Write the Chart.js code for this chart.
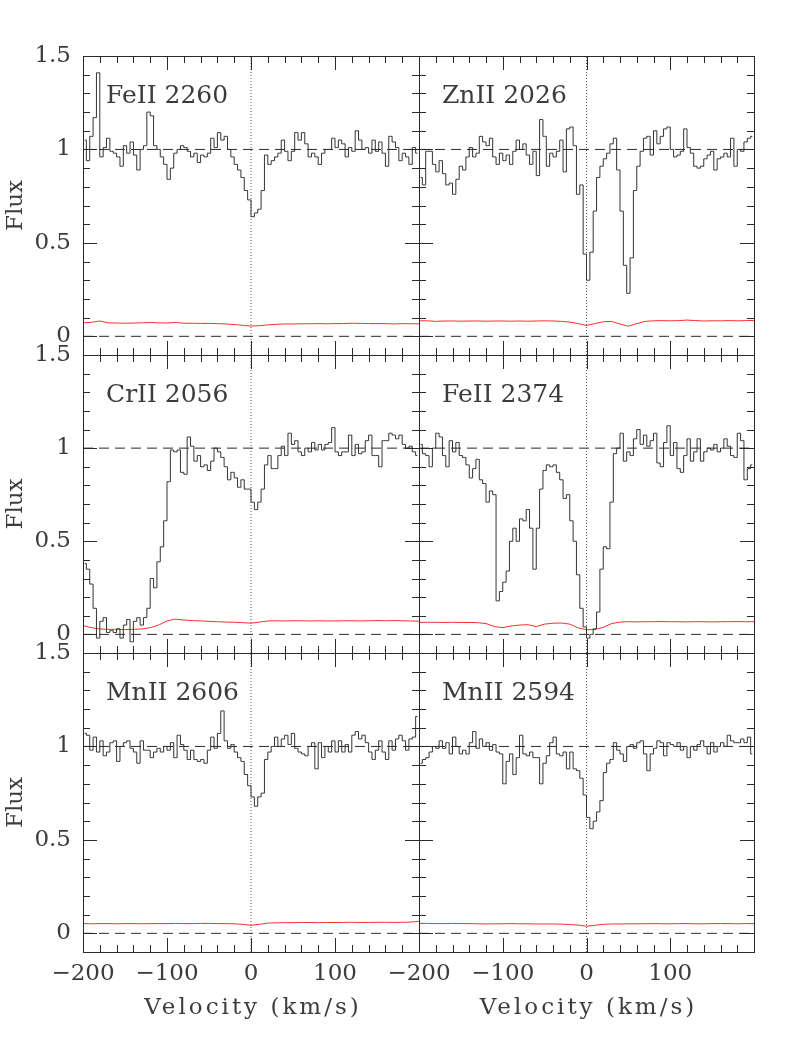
<!DOCTYPE html>
<html>
<head>
<meta charset="utf-8">
<script src="https://cdn.jsdelivr.net/npm/chart.js@4.4.1/dist/chart.umd.min.js"></script>
<style>
  html, body { margin: 0; padding: 0; background: #fff; }
  #wrap { position: relative; width: 795px; height: 1059px; }
  #wrap canvas { position: absolute; left: 0; top: 0; }
</style>
</head>
<body>
<div id="wrap">
  <canvas id="p0" width="795" height="1059"></canvas>
  <canvas id="p1" width="795" height="1059"></canvas>
  <canvas id="p2" width="795" height="1059"></canvas>
  <canvas id="p3" width="795" height="1059"></canvas>
  <canvas id="p4" width="795" height="1059"></canvas>
  <canvas id="p5" width="795" height="1059"></canvas>
</div>
<script>
// velocity of each spectral bin (km/s), bin centres
const velocity = [
  -198, -194, -190, -186, -182, -178, -174, -170, -166, -162,
  -158, -154, -150, -146, -142, -138, -134, -130, -126, -122,
  -118, -114, -110, -106, -102, -98, -94, -90, -86, -82,
  -78, -74, -70, -66, -62, -58, -54, -50, -46, -42,
  -38, -34, -30, -26, -22, -18, -14, -10, -6, -2,
  2, 6, 10, 14, 18, 22, 26, 30, 34, 38,
  42, 46, 50, 54, 58, 62, 66, 70, 74, 78,
  82, 86, 90, 94, 98, 102, 106, 110, 114, 118,
  122, 126, 130, 134, 138, 142, 146, 150, 154, 158,
  162, 166, 170, 174, 178, 182, 186, 190, 194, 198
];
// velocity grid of the error spectra (km/s)
const errVelocity = [
  -200, -190, -180, -170, -160, -150, -140, -130, -120, -110,
  -100, -90, -80, -70, -60, -50, -40, -30, -20, -10,
  0,
  10, 20, 30, 40, 50, 60, 70, 80, 90, 100,
  110, 120, 130, 140, 150, 160, 170, 180, 190, 200
];

const fluxFe2260 = [
  1.05, 0.94, 1.07, 1.17, 1.41, 0.96, 1.01, 1.06, 0.99, 0.98,
  0.96, 0.91, 1.02, 0.98, 1.04, 0.97, 0.89, 1.00, 1.02, 1.20,
  1.18, 1.02, 1.00, 0.96, 0.92, 0.84, 0.90, 0.98, 1.00, 1.02,
  1.01, 0.99, 0.96, 0.98, 0.93, 0.97, 0.96, 0.98, 1.06, 1.01,
  1.09, 1.05, 1.07, 1.00, 0.96, 0.92, 0.89, 0.85, 0.78, 0.73,
  0.64, 0.66, 0.68, 0.78, 0.97, 0.92, 0.94, 0.96, 0.98, 1.05,
  0.99, 0.94, 0.99, 1.09, 1.05, 1.09, 1.03, 0.96, 0.98, 0.96,
  0.92, 0.98, 1.00, 1.00, 1.06, 1.01, 1.05, 1.03, 0.96, 1.01,
  0.99, 1.10, 1.05, 1.00, 1.01, 0.98, 1.05, 0.99, 1.04, 0.98,
  0.91, 1.07, 1.04, 1.01, 0.94, 0.98, 0.96, 0.92, 1.01, 0.98
];
const fluxZn2026 = [
  0.85, 0.81, 0.99, 0.99, 0.92, 0.88, 0.94, 0.87, 0.81, 0.82,
  0.76, 0.84, 0.91, 0.89, 0.96, 1.01, 0.96, 0.98, 1.07, 1.04,
  1.02, 1.06, 0.96, 0.92, 0.98, 0.94, 0.97, 0.92, 0.99, 1.05,
  1.00, 1.03, 0.97, 0.92, 0.99, 0.86, 1.16, 1.07, 0.91, 0.98,
  0.96, 0.99, 1.05, 0.88, 1.11, 1.12, 1.02, 0.76, 0.81, 0.44,
  0.30, 0.45, 0.67, 0.85, 0.91, 0.95, 0.98, 1.03, 1.06, 0.89,
  0.67, 0.38, 0.23, 0.42, 0.78, 0.91, 0.99, 1.06, 1.07, 0.97,
  1.10, 1.03, 1.07, 1.11, 1.12, 1.00, 0.96, 0.97, 0.99, 1.11,
  1.01, 0.98, 0.91, 0.90, 0.91, 0.95, 0.97, 0.99, 0.89, 0.95,
  0.96, 0.98, 0.96, 1.06, 0.91, 1.00, 0.99, 1.04, 1.06, 1.07
];
const fluxCr2056 = [
  0.38, 0.35, 0.27, 0.14, -0.02, 0.07, 0.09, 0.01, 0.02, 0.01,
  0.03, -0.02, 0.05, 0.08, -0.04, 0.07, 0.09, 0.05, 0.09, 0.14,
  0.30, 0.25, 0.39, 0.47, 0.61, 0.82, 0.99, 0.98, 0.99, 0.87,
  0.86, 1.06, 1.01, 0.93, 0.96, 0.90, 0.91, 0.88, 0.93, 1.00,
  0.98, 0.95, 0.90, 0.83, 0.87, 0.84, 0.79, 0.83, 0.78, 0.78,
  0.71, 0.67, 0.71, 0.78, 0.91, 0.96, 0.89, 0.89, 0.96, 1.01,
  0.96, 1.08, 1.02, 1.04, 0.98, 0.96, 1.00, 0.98, 1.03, 0.99,
  1.02, 0.99, 1.02, 1.03, 1.11, 0.98, 0.96, 0.98, 0.98, 1.07,
  0.96, 1.02, 0.97, 0.98, 1.04, 1.07, 0.96, 0.96, 0.90, 1.04,
  1.04, 1.08, 1.07, 1.05, 1.07, 1.02, 1.00, 1.01, 0.98, 0.96
];
const fluxFe2374 = [
  1.02, 0.97, 0.96, 0.90, 1.00, 1.08, 1.06, 0.96, 0.90, 1.04,
  0.98, 1.03, 0.96, 0.95, 0.91, 0.84, 0.89, 0.94, 0.83, 0.81,
  0.71, 0.77, 0.75, 0.18, 0.23, 0.28, 0.34, 0.50, 0.57, 0.50,
  0.62, 0.61, 0.67, 0.57, 0.35, 0.57, 0.78, 0.88, 0.91, 0.90,
  0.91, 0.87, 0.83, 0.73, 0.75, 0.61, 0.50, 0.32, 0.14, 0.04,
  -0.02, 0.00, 0.03, 0.12, 0.35, 0.47, 0.46, 0.71, 0.97, 1.00,
  1.08, 0.93, 0.98, 0.96, 1.05, 1.10, 1.02, 1.07, 1.01, 1.04,
  1.08, 0.92, 0.90, 1.03, 1.12, 0.96, 1.03, 0.89, 0.87, 0.96,
  1.05, 0.93, 0.98, 1.05, 0.93, 0.98, 1.00, 0.99, 1.02, 0.98,
  1.00, 1.05, 1.01, 0.96, 0.95, 1.08, 1.04, 0.83, 0.89, 0.91
];
const fluxMn2606 = [
  1.07, 1.06, 0.98, 1.05, 0.97, 1.03, 0.95, 0.97, 1.02, 1.03,
  0.92, 1.00, 1.02, 1.03, 0.99, 0.97, 0.91, 1.03, 0.98, 0.98,
  0.94, 0.97, 0.99, 0.97, 1.00, 0.98, 1.02, 0.94, 1.06, 1.01,
  0.98, 0.93, 0.98, 0.93, 0.92, 0.93, 0.91, 0.98, 1.05, 0.99,
  1.07, 1.19, 1.03, 0.99, 1.01, 0.97, 0.94, 0.92, 0.85, 0.79,
  0.73, 0.68, 0.73, 0.75, 0.93, 0.97, 1.00, 1.05, 1.00, 1.04,
  1.06, 1.01, 1.07, 0.99, 0.97, 0.96, 0.95, 1.00, 1.02, 0.88,
  1.02, 0.94, 1.00, 0.97, 1.03, 0.97, 1.03, 0.97, 1.01, 0.97,
  1.06, 1.08, 1.04, 1.06, 1.02, 0.97, 0.93, 0.98, 1.03, 0.97,
  0.93, 1.03, 0.98, 1.04, 1.06, 1.03, 0.98, 1.04, 1.05, 1.16
];
const fluxMn2594 = [
  0.91, 0.93, 0.94, 0.97, 1.00, 0.99, 1.03, 0.99, 1.02, 0.96,
  1.05, 1.00, 0.96, 0.98, 0.96, 1.02, 1.08, 0.99, 1.04, 1.00,
  1.02, 0.98, 1.01, 0.97, 0.96, 0.80, 0.92, 0.96, 0.85, 0.94,
  1.06, 0.96, 0.95, 0.97, 0.94, 0.94, 0.80, 0.91, 0.95, 1.02,
  1.05, 0.96, 0.95, 0.97, 0.88, 0.97, 0.88, 0.87, 0.83, 0.74,
  0.62, 0.56, 0.60, 0.65, 0.71, 0.86, 0.91, 0.93, 1.02, 0.98,
  0.96, 0.92, 1.00, 1.01, 0.99, 1.02, 1.03, 0.96, 0.87, 0.96,
  0.99, 1.03, 1.02, 0.95, 1.02, 1.01, 1.00, 1.02, 0.98, 1.00,
  0.94, 1.00, 0.98, 1.01, 1.03, 1.00, 0.96, 1.02, 0.97, 1.00,
  1.02, 1.00, 1.06, 1.03, 1.02, 1.02, 1.04, 1.02, 1.05, 0.96
];

const errFe2260 = [
  0.072, 0.075, 0.082, 0.072, 0.071, 0.070, 0.071, 0.072, 0.074, 0.072,
  0.071, 0.074, 0.070, 0.070, 0.069, 0.069, 0.068, 0.066, 0.063, 0.059,
  0.055,
  0.057, 0.061, 0.064, 0.066, 0.066, 0.067, 0.067, 0.068, 0.067, 0.068,
  0.068, 0.070, 0.069, 0.068, 0.068, 0.068, 0.066, 0.068, 0.067, 0.067
];
const errZn2026 = [
  0.083, 0.083, 0.080, 0.082, 0.082, 0.081, 0.082, 0.082, 0.081, 0.082,
  0.082, 0.081, 0.082, 0.081, 0.082, 0.083, 0.082, 0.080, 0.076, 0.068,
  0.058,
  0.068, 0.078, 0.080, 0.066, 0.054, 0.068, 0.080, 0.083, 0.084, 0.083,
  0.084, 0.087, 0.084, 0.082, 0.083, 0.083, 0.084, 0.083, 0.084, 0.085
];
const errCr2056 = [
  0.047, 0.036, 0.029, 0.027, 0.027, 0.026, 0.027, 0.029, 0.036, 0.050,
  0.072, 0.082, 0.077, 0.074, 0.072, 0.070, 0.068, 0.066, 0.065, 0.063,
  0.060,
  0.066, 0.072, 0.073, 0.072, 0.073, 0.073, 0.072, 0.073, 0.072, 0.072,
  0.073, 0.073, 0.072, 0.073, 0.074, 0.073, 0.074, 0.073, 0.072, 0.071
];
const errFe2374 = [
  0.064, 0.065, 0.065, 0.064, 0.065, 0.064, 0.064, 0.063, 0.058, 0.042,
  0.036, 0.045, 0.050, 0.052, 0.042, 0.055, 0.060, 0.061, 0.055, 0.035,
  0.025,
  0.026, 0.038, 0.058, 0.066, 0.068, 0.067, 0.068, 0.068, 0.069, 0.068,
  0.068, 0.067, 0.068, 0.068, 0.067, 0.068, 0.068, 0.069, 0.068, 0.068
];
const errMn2606 = [
  0.052, 0.051, 0.052, 0.052, 0.051, 0.052, 0.052, 0.051, 0.052, 0.052,
  0.052, 0.053, 0.052, 0.052, 0.053, 0.053, 0.052, 0.052, 0.051, 0.048,
  0.043,
  0.048, 0.055, 0.056, 0.057, 0.057, 0.058, 0.058, 0.057, 0.058, 0.058,
  0.058, 0.059, 0.058, 0.058, 0.059, 0.059, 0.058, 0.059, 0.060, 0.064
];
const errMn2594 = [
  0.053, 0.053, 0.052, 0.052, 0.053, 0.052, 0.052, 0.051, 0.050, 0.051,
  0.051, 0.052, 0.051, 0.051, 0.050, 0.050, 0.050, 0.049, 0.047, 0.044,
  0.038,
  0.043, 0.048, 0.050, 0.050, 0.051, 0.051, 0.051, 0.052, 0.051, 0.051,
  0.052, 0.052, 0.051, 0.051, 0.052, 0.052, 0.052, 0.051, 0.052, 0.052
];

const panelLabels = ['FeII 2260', 'ZnII 2026', 'CrII 2056', 'FeII 2374', 'MnII 2606', 'MnII 2594'];
const panelFlux = [fluxFe2260, fluxZn2026, fluxCr2056, fluxFe2374, fluxMn2606, fluxMn2594];
const panelErr = [errFe2260, errZn2026, errCr2056, errFe2374, errMn2606, errMn2594];
const xTitle = 'Velocity (km/s)';
const yTitle = 'Flux';

// axis ticks
const xTickLabels = [-200, -100, 0, 100];
const xTicks = [-180, -160, -140, -120, -100, -80, -60, -40, -20, 0, 20, 40, 60, 80, 100, 120, 140, 160, 180];
const xMajor = [-100, 0, 100];
const yTickLabels = [0, 0.5, 1, 1.5];
const yTicks = [0, 0.1, 0.2, 0.3, 0.4, 0.5, 0.6, 0.7, 0.8, 0.9, 1, 1.1, 1.2, 1.3, 1.4];
const yMajor = [0, 0.5, 1];
const continuumLevel = 1;
const zeroLevel = 0;
const systemVelocity = 0;

// panel boxes on the page
const colBox = [{left: 83, right: 419}, {left: 419, right: 754}];
const rowBox = [{top: 56, bottom: 355}, {top: 355, bottom: 653}, {top: 653, bottom: 952}];

const FONT = '"DejaVu Serif", serif';
const INK = '#2a2a2a';
const TEXT = '#3c3c3c';

function pairs(xs, ys) {
  return xs.map((v, i) => ({x: v, y: ys[i]}));
}

function fmt(v) {
  return v < 0 ? '\u2212' + Math.abs(v) : String(v);
}

// frame + inward ticks on all sides + panel label (+ x title, which is wider spaced)
const framePlugin = {
  id: 'frame',
  afterDatasetsDraw(chart, args, opts) {
    const {ctx, chartArea: a} = chart;
    const x = chart.scales.x, y = chart.scales.y;
    ctx.save();
    ctx.strokeStyle = INK;
    ctx.lineWidth = 1;
    ctx.beginPath();
    xTicks.forEach(v => {
      const px = Math.round(x.getPixelForValue(v)) + 0.5;
      const len = xMajor.includes(v) ? 14 : 7;
      ctx.moveTo(px, a.bottom); ctx.lineTo(px, a.bottom - len);
      ctx.moveTo(px, a.top); ctx.lineTo(px, a.top + len);
    });
    yTicks.forEach(v => {
      const py = Math.round(y.getPixelForValue(v)) + 0.5;
      const len = yMajor.includes(v) ? 14 : 7;
      ctx.moveTo(a.left, py); ctx.lineTo(a.left + len, py);
      ctx.moveTo(a.right, py); ctx.lineTo(a.right - len, py);
    });
    ctx.stroke();
    ctx.strokeRect(Math.round(a.left) + 0.5, Math.round(a.top) + 0.5,
      Math.round(a.right - a.left), Math.round(a.bottom - a.top));

    ctx.font = '25px ' + FONT;
    ctx.fillStyle = TEXT;
    ctx.textBaseline = 'alphabetic';
    ctx.textAlign = 'left';
    ctx.fillText(opts.label, a.left + 23, a.top + 47);

    if (opts.xTitle) {
      ctx.font = '23px ' + FONT;
      ctx.letterSpacing = '3px';
      ctx.textAlign = 'center';
      ctx.textBaseline = 'middle';
      ctx.fillText(opts.xTitle, (a.left + a.right) / 2 + 2, a.bottom + 56);
    }
    ctx.restore();
  }
};

function makePanel(idx) {
  const col = idx % 2, row = Math.floor(idx / 2);
  const c = colBox[col], r = rowBox[row];
  const bottomRow = row === 2, leftCol = col === 0;
  const tickFont = {family: FONT, size: 23};

  new Chart(document.getElementById('p' + idx), {
    type: 'line',
    data: {
      datasets: [
        {data: pairs(velocity, panelFlux[idx]), borderColor: '#333', borderWidth: 1,
         stepped: 'middle', pointRadius: 0},
        {data: pairs(errVelocity, panelErr[idx]), borderColor: 'rgb(255,45,45)', borderWidth: 1,
         pointRadius: 0, tension: 0},
        {data: [{x: -200, y: continuumLevel}, {x: 200, y: continuumLevel}], borderColor: INK,
         borderWidth: 1, borderDash: [10, 6], pointRadius: 0},
        {data: [{x: -200, y: zeroLevel}, {x: 200, y: zeroLevel}], borderColor: INK,
         borderWidth: 1, borderDash: [10, 6], pointRadius: 0},
        {data: [{x: systemVelocity, y: -0.1}, {x: systemVelocity, y: 1.5}], borderColor: '#555',
         borderWidth: 1, borderDash: [1, 2], pointRadius: 0}
      ]
    },
    options: {
      responsive: false,
      animation: false,
      events: [],
      layout: {
        padding: {
          left: leftCol ? 0 : c.left,
          right: 795 - c.right,
          top: r.top,
          bottom: bottomRow ? 0 : 1059 - r.bottom
        }
      },
      plugins: {
        legend: {display: false},
        tooltip: {enabled: false},
        frame: {label: panelLabels[idx], xTitle: bottomRow ? xTitle : null}
      },
      scales: {
        x: {
          type: 'linear', position: 'bottom', min: -200, max: 200,
          grid: {display: false, drawTicks: false},
          border: {display: false},
          afterBuildTicks: s => { s.ticks = xTickLabels.map(v => ({value: v})); },
          afterFit: s => { s.height = bottomRow ? 1059 - r.bottom : 0; s.paddingLeft = 0; s.paddingRight = 0; },
          ticks: {display: bottomRow, callback: fmt, font: tickFont, color: TEXT, padding: 8,
                  maxRotation: 0, autoSkip: false}
        },
        y: {
          type: 'linear', position: 'left', min: -0.1, max: 1.5,
          grid: {display: false, drawTicks: false},
          border: {display: false},
          afterBuildTicks: s => { s.ticks = yTickLabels.map(v => ({value: v})); },
          afterFit: s => { s.width = leftCol ? c.left : 0; s.paddingTop = 0; s.paddingBottom = 0; },
          ticks: {display: leftCol, callback: fmt, font: tickFont, color: TEXT, padding: 12,
                  autoSkip: false},
          title: {display: leftCol, text: yTitle, font: tickFont, color: TEXT,
                  padding: {top: 2, bottom: 0}}
        }
      }
    },
    plugins: [framePlugin]
  });
}

for (let i = 0; i < 6; i++) makePanel(i);
</script>
</body>
</html>
